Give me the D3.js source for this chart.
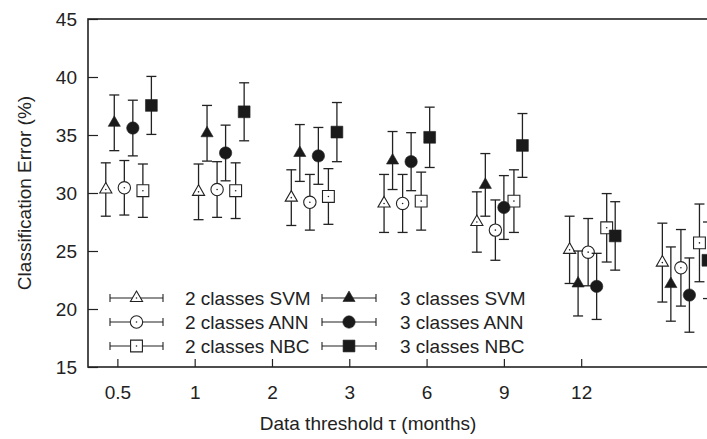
<!DOCTYPE html>
<html>
<head>
<meta charset="utf-8">
<script src="https://cdn.jsdelivr.net/npm/d3@7"></script>
<style>
  body { margin: 0; background: #fff; }
  text { font-family: "Liberation Sans", Arial, sans-serif; fill: #222; }
</style>
</head>
<body>
<div id="chart"></div>
<script>
// threshold categories and where their tick labels sit on the x axis
var categories = ["0.5", "1", "2", "3", "6", "9", "12"];
var tickPos = [1, 2, 3, 4, 5, 6, 7];
// x value of the first point of every group (the data is shifted against the ticks)
var groupPos = [0.85, 2.05, 3.25, 4.45, 5.65, 6.85, 8.05];
var yTicks = [15, 20, 25, 30, 35, 40, 45];

// mean error (%) and half width of the error bar
var svm2Mean = [30.3, 30.1, 29.6, 29.1, 27.5, 25.1, 24.0];
var svm2Err  = [2.3, 2.4, 2.4, 2.5, 2.6, 2.9, 3.4];
var ann2Mean = [30.45, 30.3, 29.2, 29.1, 26.8, 24.9, 23.55];
var ann2Err  = [2.35, 2.4, 2.4, 2.5, 2.6, 2.9, 3.3];
var nbc2Mean = [30.2, 30.2, 29.7, 29.3, 29.3, 27.0, 25.7];
var nbc2Err  = [2.3, 2.4, 2.4, 2.5, 2.7, 2.95, 3.35];
var svm3Mean = [36.05, 35.15, 33.45, 32.8, 30.7, 22.2, 22.15];
var svm3Err  = [2.4, 2.4, 2.45, 2.5, 2.7, 2.8, 3.2];
var ann3Mean = [35.6, 33.45, 33.2, 32.7, 28.75, 21.95, 21.2];
var ann3Err  = [2.4, 2.4, 2.45, 2.5, 2.75, 2.85, 3.2];
var nbc3Mean = [37.55, 37.0, 35.25, 34.8, 34.1, 26.3, 24.2];
var nbc3Err  = [2.5, 2.5, 2.55, 2.6, 2.75, 2.95, 3.3];

var seriesNames = ["2 classes SVM", "2 classes ANN", "2 classes NBC",
                   "3 classes SVM", "3 classes ANN", "3 classes NBC"];
var seriesOffset = [0, 0.24, 0.48, 0.11, 0.35, 0.59];

var series = [
  {name: seriesNames[0], mean: svm2Mean, err: svm2Err, shape: d3.symbolTriangle, filled: false, off: seriesOffset[0]},
  {name: seriesNames[1], mean: ann2Mean, err: ann2Err, shape: d3.symbolCircle,   filled: false, off: seriesOffset[1]},
  {name: seriesNames[2], mean: nbc2Mean, err: nbc2Err, shape: d3.symbolSquare,   filled: false, off: seriesOffset[2]},
  {name: seriesNames[3], mean: svm3Mean, err: svm3Err, shape: d3.symbolTriangle, filled: true,  off: seriesOffset[3]},
  {name: seriesNames[4], mean: ann3Mean, err: ann3Err, shape: d3.symbolCircle,   filled: true,  off: seriesOffset[4]},
  {name: seriesNames[5], mean: nbc3Mean, err: nbc3Err, shape: d3.symbolSquare,   filled: true,  off: seriesOffset[5]}
];

var W = 707, H = 439;
var pLeft = 88, pTop = 19, pBottom = 367;
var ink = "#222";

var x = d3.scaleLinear().domain([0.62, 8.7]).range([pLeft, 712.6]);
var y = d3.scaleLinear().domain([15, 45]).range([pBottom, pTop]);

var svg = d3.select("#chart").append("svg")
  .attr("width", W).attr("height", H);

function symSize(shape) {
  if (shape === d3.symbolTriangle) return 64;
  if (shape === d3.symbolCircle) return 120;
  return 140;
}

function marker(g, s) {
  g.append("path")
    .attr("d", d3.symbol().type(s.shape).size(symSize(s.shape))())
    .attr("fill", s.filled ? "#1a1a1a" : "#fff")
    .attr("stroke", ink)
    .attr("stroke-width", s.filled ? 0.6 : 1.1);
  if (!s.filled) {
    g.append("circle").attr("r", 0.8).attr("fill", ink);
  }
}

// axes
var xAxis = d3.axisBottom(x).tickValues(tickPos)
  .tickFormat(function(d, i) { return categories[i]; })
  .tickSizeInner(-8).tickSizeOuter(0).tickPadding(19);
var yAxis = d3.axisLeft(y).tickValues(yTicks)
  .tickSizeInner(-10).tickSizeOuter(0).tickPadding(11);

var gx = svg.append("g").attr("transform", "translate(0," + pBottom + ")").call(xAxis);
var gy = svg.append("g").attr("transform", "translate(" + pLeft + ",0)").call(yAxis);
[gx, gy].forEach(function(g) {
  g.select(".domain").remove();
  g.selectAll(".tick line").attr("stroke", ink).attr("stroke-width", 1.2);
  g.selectAll(".tick text").attr("font-size", 19).attr("fill", ink)
    .attr("font-family", "Liberation Sans, Arial, sans-serif");
});

// frame
svg.append("rect")
  .attr("x", pLeft).attr("y", pTop)
  .attr("width", x.range()[1] - pLeft).attr("height", pBottom - pTop)
  .attr("fill", "none").attr("stroke", ink).attr("stroke-width", 1.6);

// error bars and points
var cap = 5;
series.forEach(function(s) {
  var g = svg.append("g");
  groupPos.forEach(function(gp, i) {
    var px = x(gp + s.off);
    var hi = y(s.mean[i] + s.err[i]), lo = y(s.mean[i] - s.err[i]);
    var bar = g.append("g").attr("stroke", ink).attr("stroke-width", 1.3);
    bar.append("line").attr("x1", px).attr("x2", px).attr("y1", hi).attr("y2", lo);
    bar.append("line").attr("x1", px - cap).attr("x2", px + cap).attr("y1", hi).attr("y2", hi);
    bar.append("line").attr("x1", px - cap).attr("x2", px + cap).attr("y1", lo).attr("y2", lo);
    var m = g.append("g").attr("transform", "translate(" + px + "," + y(s.mean[i]) + ")");
    marker(m, s);
  });
});

// legend
var legCols = [{x0: 110, x1: 163, tx: 185}, {x0: 322, x1: 376, tx: 400}];
var legRows = [298, 322, 346];
series.forEach(function(s, i) {
  var c = legCols[Math.floor(i / 3)], ry = legRows[i % 3];
  var g = svg.append("g");
  g.append("line").attr("x1", c.x0).attr("x2", c.x1).attr("y1", ry).attr("y2", ry)
    .attr("stroke", ink).attr("stroke-width", 1.1);
  [c.x0, c.x1].forEach(function(cx) {
    g.append("line").attr("x1", cx).attr("x2", cx).attr("y1", ry - 4).attr("y2", ry + 4)
      .attr("stroke", ink).attr("stroke-width", 1.1);
  });
  var m = g.append("g").attr("transform", "translate(" + ((c.x0 + c.x1) / 2) + "," + ry + ")");
  marker(m, s);
  g.append("text").attr("x", c.tx).attr("y", ry).attr("dy", "0.36em")
    .attr("font-size", 19).text(s.name);
});

// axis titles
svg.append("text")
  .attr("x", 368).attr("y", 430)
  .attr("text-anchor", "middle").attr("font-size", 19)
  .text("Data threshold \u03c4 (months)");
svg.append("text")
  .attr("transform", "translate(31," + ((pTop + pBottom) / 2) + ") rotate(-90)")
  .attr("text-anchor", "middle").attr("font-size", 19)
  .text("Classification Error (%)");
</script>
</body>
</html>
